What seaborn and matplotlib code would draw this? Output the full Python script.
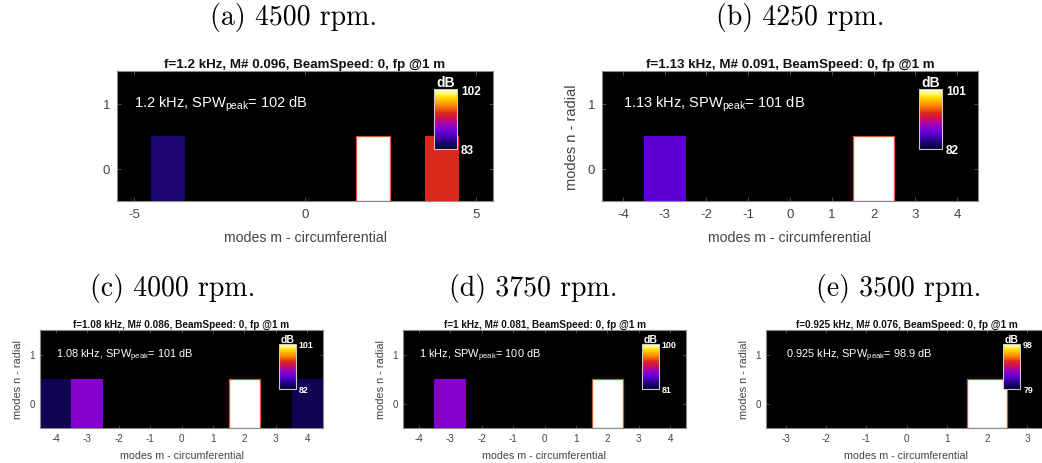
import numpy as np
import pandas as pd
import matplotlib
matplotlib.use("Agg")
import matplotlib.pyplot as plt
from matplotlib.colors import LinearSegmentedColormap
from matplotlib.patches import Rectangle
import seaborn as sns

sns.set_theme(style="white")
plt.rcParams["font.family"] = ["Liberation Sans", "DejaVu Sans"]
plt.rcParams["mathtext.fontset"] = "custom"
plt.rcParams["mathtext.rm"] = "Liberation Sans"
plt.rcParams["mathtext.it"] = "Liberation Sans:italic"
plt.rcParams["mathtext.bf"] = "Liberation Sans:bold"

# ---------------------------------------------------------------- data
captions = ["(a) 4500 rpm.", "(b) 4250 rpm.", "(c) 4000 rpm.",
            "(d) 3750 rpm.", "(e) 3500 rpm."]
freq_khz = ["1.2", "1.13", "1.08", "1", "0.925"]
mach_no = ["0.096", "0.091", "0.086", "0.081", "0.076"]
spw_peak = [102, 101, 101, 100, 98.9]          # dB
cbar_min = [83, 82, 82, 81, 79]                # dB
cbar_max = [102, 101, 101, 100, 98]            # dB
m_extent = [5, 4, 4, 4, 3]                     # |m| range of each map
m_labels = [[-5, 0, 5],
            [-4, -3, -2, -1, 0, 1, 2, 3, 4],
            [-4, -3, -2, -1, 0, 1, 2, 3, 4],
            [-4, -3, -2, -1, 0, 1, 2, 3, 4],
            [-3, -2, -1, 0, 1, 2, 3]]
n_modes = [0, 1]

# sound power level of the cut-on (m, n=0) modes, dB
modes_a = [-4, 2, 4]
level_a = [85.0, spw_peak[0], 94.5]
modes_b = [-3, 2]
level_b = [87.0, spw_peak[1]]
modes_c = [-4, -3, 2, 4]
level_c = [83.0, 88.7, spw_peak[2], 83.0]
modes_d = [-3, 2]
level_d = [87.7, spw_peak[3]]
modes_e = [2]
level_e = [spw_peak[4]]

panel_modes = [modes_a, modes_b, modes_c, modes_d, modes_e]
panel_levels = [level_a, level_b, level_c, level_d, level_e]

# ---------------------------------------------------------------- style
cmap = LinearSegmentedColormap.from_list("modefire", [
    (0.00, (0.03, 0.00, 0.22)),
    (0.12, (0.12, 0.02, 0.48)),
    (0.25, (0.35, 0.00, 0.82)),
    (0.38, (0.56, 0.00, 0.80)),
    (0.50, (0.80, 0.05, 0.38)),
    (0.60, (0.86, 0.15, 0.12)),
    (0.72, (1.00, 0.50, 0.00)),
    (0.86, (1.00, 0.85, 0.00)),
    (0.95, (1.00, 1.00, 0.55)),
    (1.00, (1.00, 1.00, 1.00)),
])

W, H = 1042, 464
fig = plt.figure(figsize=(W / 100, H / 100), dpi=100)

# axes boxes in pixels: left, top, right, bottom
boxes = [(117, 72, 493, 202), (602, 72, 978, 202),
         (40, 331, 323, 429), (403, 331, 686, 429), (766, 331, 1047, 429)]
caption_xy = [(293, 18), (800, 18), (173, 289), (533, 289), (899, 289)]
big = [True, True, False, False, False]

for i in range(5):
    l, t, r, b = boxes[i]
    ax = fig.add_axes([l / W, 1 - b / H, (r - l) / W, (b - t) / H])
    ax.set_facecolor("black")
    cax = ax.inset_axes([0.843, 0.40, 0.061, 0.46])

    m_vals = list(range(-m_extent[i], m_extent[i] + 1))
    grid = pd.DataFrame(np.nan, index=n_modes, columns=m_vals)
    for m, v in zip(panel_modes[i], panel_levels[i]):
        grid.loc[0, m] = v

    sns.heatmap(grid, ax=ax, cmap=cmap, vmin=cbar_min[i], vmax=cbar_max[i],
                cbar_ax=cax, xticklabels=False, yticklabels=False)
    ax.set_ylim(0, len(n_modes))

    # thin rim around the strongest mode cell
    levels = panel_levels[i]
    k = int(np.argmax(levels))
    ax.add_patch(Rectangle((m_vals.index(panel_modes[i][k]), n_modes.index(0)),
                           1, 1, fill=False, edgecolor="#d0562c",
                           linewidth=0.9, zorder=3))

    s = 1.0 if big[i] else 0.75
    ax.set_xticks([m_vals.index(m) + 0.5 for m in m_labels[i]])
    ax.set_xticklabels([str(m) for m in m_labels[i]])
    ax.set_yticks([n_modes.index(n) + 0.5 for n in n_modes])
    ax.set_yticklabels([str(n) for n in n_modes])
    ax.tick_params(direction="in", length=3 * s, width=0.6, color="#5a5a5a",
                   bottom=True, left=True, top=True, right=True,
                   labelcolor="#444444", labelsize=9.5 * s, pad=5 * s)
    ax.tick_params(axis="y", rotation=0)
    for sp in ax.spines.values():
        sp.set_visible(True)
        sp.set_color("#8a8a8a")
        sp.set_linewidth(0.8)

    ax.set_xlabel("modes m - circumferential", fontsize=10.2 * s,
                  color="#444444", labelpad=7 * s)
    if i > 0:
        ax.set_ylabel("modes n - radial", fontsize=10.5 * s,
                      color="#444444", labelpad=6 * s)
    ax.set_title(f"f={freq_khz[i]} kHz, M# {mach_no[i]}, BeamSpeed: 0, fp @1 m",
                 fontsize=9.6 * s, fontweight="bold", color="#111111",
                 pad=3 * s)

    ax.text(0.5, 1.5,
            f"{freq_khz[i]} kHz, SPW$_{{\\rm peak}}$= {spw_peak[i]:g} dB",
            color="white", fontsize=10.5 * s, ha="left", va="center")

    # colour bar inside the map
    cax.set_yticks([cbar_min[i], cbar_max[i]])
    cax.set_yticklabels([str(cbar_min[i]), str(cbar_max[i])])
    cax.tick_params(length=0, colors="white", labelsize=8.5 * s, pad=3 * s)
    for lab in cax.get_yticklabels():
        lab.set_fontweight("bold")
    cax.set_title("dB", color="white", fontweight="bold",
                  fontsize=10 * s, pad=1)
    cbar = ax.collections[0].colorbar
    cbar.outline.set_visible(True)
    cbar.outline.set_edgecolor("#c8c8c8")
    cbar.outline.set_linewidth(0.8)

    cx, cy = caption_xy[i]
    fig.text(cx / W, 1 - cy / H, captions[i], family="cmr10",
             fontsize=20, ha="center", va="center", color="black")

fig.savefig("out.png", dpi=100)
